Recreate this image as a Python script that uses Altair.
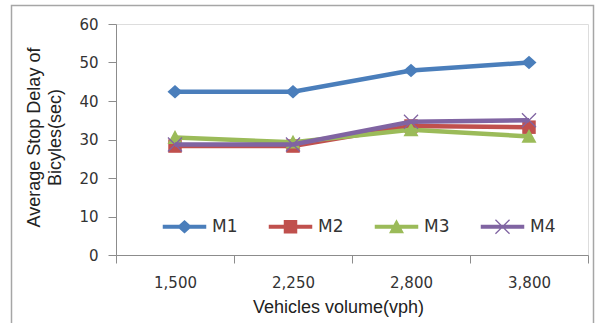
import altair as alt
import pandas as pd

volumes = ["1,500", "2,250", "2,800", "3,800"]
series_names = ["M1", "M2", "M3", "M4"]
m1 = [42.4, 42.4, 47.9, 50.0]
m2 = [28.3, 28.3, 33.5, 33.2]
m3 = [30.5, 29.3, 32.5, 30.8]
m4 = [28.7, 28.7, 34.6, 35.0]
y_ticks = [0, 10, 20, 30, 40, 50, 60]

colors = ["#4A7EBB", "#C0504D", "#9BBB59", "#8064A2"]

rows = []
for name, vals in zip(series_names, [m1, m2, m3, m4]):
    for v, d in zip(volumes, vals):
        rows.append({"volume": v, "series": name, "delay": d})
df = pd.DataFrame(rows)

marker_paths = [
    "M0,-0.9L1,0L0,0.9L-1,0Z",
    "M-0.9,-0.9H0.9V0.9H-0.9Z",
    "M0,-1L1,0.85H-1Z",
    "M-1,-0.88L-0.88,-1L1,0.88L0.88,1Z M0.88,-1L1,-0.88L-0.88,1L-1,0.88Z",
]
stub = "M-2.9,-0.27H2.9V0.27H-2.9Z "
legend_paths = [stub + p for p in marker_paths]

x_enc = alt.X(
    "volume:N",
    sort=volumes,
    bandPosition=0.5,
    scale=alt.Scale(type="band", paddingInner=0, paddingOuter=0, domain=volumes),
    axis=alt.Axis(
        title="Vehicles volume(vph)",
        tickBand="extent",
        labelAngle=0,
        labelFont="DejaVu Sans",
        labelFontSize=15,
        labelColor="#333333",
        labelPadding=12,
        domainColor="#8c8c8c",
        tickColor="#8c8c8c",
        tickSize=8,
        titleFont="Liberation Sans",
        titleFontSize=18,
        titleFontWeight="normal",
        titleColor="#222222",
        titleX=222,
        titleY=57,
        titleAlign="center",
        titleBaseline="alphabetic",
    ),
)
y_enc = alt.Y(
    "delay:Q",
    scale=alt.Scale(domain=[0, 60], nice=False, zero=True),
    axis=alt.Axis(
        values=y_ticks,
        grid=False,
        title=["Average Stop Delay of", "Bicyles(sec)"],
        labelFont="DejaVu Sans",
        labelFontSize=15,
        labelColor="#333333",
        labelPadding=10,
        domainColor="#8c8c8c",
        tickColor="#8c8c8c",
        tickSize=8,
        titleFont="Liberation Sans",
        titleFontSize=18,
        titleFontWeight="normal",
        titleColor="#222222",
        titleAngle=-90,
        titleX=-77,
        titleY=113,
        titleAlign="center",
        titleBaseline="alphabetic",
        titleLineHeight=21,
    ),
)

legend = alt.Legend(
    title=None,
    orient="none",
    direction="horizontal",
    legendX=60,
    legendY=194,
    symbolSize=225,
    symbolStrokeWidth=0,
    symbolOpacity=1,
    labelOffset=19,
    columnPadding=30,
    padding=0,
    labelFont="DejaVu Sans",
    labelFontSize=17,
    labelColor="#333333",
)

base = alt.Chart(df)
layers = []
for name, col, mpath in zip(series_names, colors, marker_paths):
    sub = base.transform_filter(alt.datum.series == name)
    layers.append(
        sub.mark_line(strokeWidth=4.5, color=col).encode(x=x_enc, y=y_enc)
    )
    layers.append(
        sub.mark_point(filled=True, size=225, opacity=1, color=col, shape=mpath).encode(
            x=x_enc, y=y_enc
        )
    )

# legend carrier: no rows drawn, scales with explicit domains give the entries
legend_layer = base.transform_filter("datum.delay < -1000").mark_point(
    filled=True, size=225, opacity=1
).encode(
    x=x_enc,
    y=y_enc,
    color=alt.Color("series:N", scale=alt.Scale(domain=series_names, range=colors), legend=legend),
    shape=alt.Shape("series:N", scale=alt.Scale(domain=series_names, range=legend_paths), legend=legend),
)

frame = alt.Chart(pd.DataFrame({"frame": [0]})).mark_rect(
    fillOpacity=0, stroke="#a6a6a6", strokeWidth=1.5
).encode(
    x=alt.value(-104.5), x2=alt.value(477.5), y=alt.value(-18.5), y2=alt.value(330)
)

chart = alt.layer(frame, *layers, legend_layer).properties(
    width=472,
    height=231,
    autosize=alt.AutoSizeParams(type="none"),
    padding={"left": 116, "top": 24, "right": 7, "bottom": 68},
).configure_view(stroke=None).configure(background="white")

chart.save("out.html", embed_options={"renderer": "svg", "actions": False})
